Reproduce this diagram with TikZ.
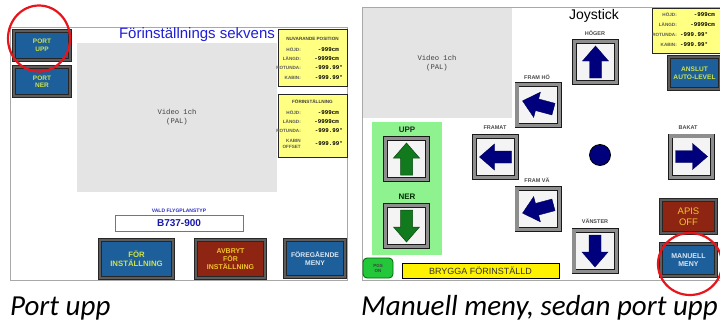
\documentclass[tikz,border=0pt]{standalone}
\usepackage{fontspec}
\setmainfont{Liberation Sans}
\newfontfamily\capfont{Carlito}
\newfontfamily\monofont{Liberation Mono}
\usetikzlibrary{shapes.geometric}

\definecolor{btnblue}{HTML}{1D5F9B}
\definecolor{btnred}{HTML}{8E2412}
\definecolor{btnframe}{HTML}{5C5C5C}
\definecolor{keyframe}{HTML}{8E8E8E}
\definecolor{keyface}{HTML}{F4F4F4}
\definecolor{txtgreen}{HTML}{CDE24C}
\definecolor{txtyellow}{HTML}{F0C428}
\definecolor{txtpale}{HTML}{DCE6F2}
\definecolor{infoyellow}{HTML}{FFFF82}
\definecolor{vidgray}{HTML}{E4E4E4}
\definecolor{navyarrow}{HTML}{00007C}
\definecolor{greenarrow}{HTML}{107A1C}
\definecolor{panelgreen}{HTML}{8EF28E}
\definecolor{pgsgreen}{HTML}{22C83A}
\definecolor{framegray}{HTML}{A8A8A8}
\definecolor{titleblue}{HTML}{1F1FD6}
\definecolor{labelblue}{HTML}{2A2ABE}
\definecolor{circred}{HTML}{E8141B}
\definecolor{labgray}{HTML}{4A4A4A}

\tikzset{
  hmibtn/.style={draw=black!85, double=btnframe, double distance=2.6pt,
    line width=0.6pt, inner sep=0pt, align=center,
    font=\bfseries\fontsize{6.5}{7.5}\selectfont},
  bluebtn/.style={hmibtn, fill=btnblue},
  redbtn/.style={hmibtn, fill=btnred},
  joykey/.style={draw=black!90, double=keyframe, double distance=3.2pt,
    line width=0.8pt, fill=keyface, minimum width=42.2pt, minimum height=41.2pt,
    inner sep=0pt},
  keylabel/.style={font=\bfseries\fontsize{5.5}{6}\selectfont, text=labgray, inner sep=0pt},
  infobox/.style={draw=black!85, line width=0.8pt, fill=infoyellow},
  infohead/.style={font=\bfseries\fontsize{4.6}{5}\selectfont, text=black!75, inner sep=0pt},
  infolab/.style={font=\bfseries\fontsize{4.6}{5}\selectfont, text=black!65, inner sep=0pt, anchor=east, align=right},
  infoval/.style={font=\monofont\bfseries\fontsize{5.8}{6}\selectfont, inner sep=0pt},
  videotxt/.style={font=\monofont\fontsize{7.2}{8.6}\selectfont, text=black!75, align=center},
  navyarr/.style={fill=navyarrow, draw=navyarrow!70!black, line width=0.4pt},
  greenarr/.style={fill=greenarrow, draw=greenarrow!60!black, line width=0.5pt},
  ring/.style={draw=circred, line width=2.2pt, ellipse, inner sep=0pt},
  caption/.style={font=\capfont\itshape\fontsize{29}{34}\selectfont, inner sep=0pt},
}

% block arrow pointing up before rotation: colour style, centre, angle
\newcommand\blockarrow[3]{%
  \filldraw[#1, shift={(#2)}, rotate=#3]
    (0,-16) -- (13,-1) -- (6,-1) -- (6,16) -- (-6,16) -- (-6,-1) -- (-13,-1) -- cycle;}

\begin{document}
\begin{tikzpicture}[x=1pt, y=-1pt]
\useasboundingbox (0,0) rectangle (720,322);
\clip (0,0) rectangle (720,322);

% ---------------- presetting screen ----------------
\draw[framegray, line width=1pt] (10,27) rectangle (347,280);
\fill[vidgray] (77,43) rectangle (277,192);
\node[videotxt] (vidA) at (177,117) {Video 1ch\\(PAL)};
\node[font=\fontsize{15}{17}\selectfont, text=titleblue, inner sep=0pt] (titleA) at (197,35) {Förinställnings sekvens};

\node[bluebtn, minimum width=56pt, minimum height=29pt, text=txtgreen] (portupp) at (42,45.5) {PORT\\UPP};
\node[bluebtn, minimum width=56pt, minimum height=29pt, text=txtgreen] (portner) at (42,81.5) {PORT\\NER};

% current position box
\node[infobox, minimum width=69pt, minimum height=57pt, inner sep=0pt] (posbox) at (312.5,57.5) {};
\node[infohead] (posh) at (312.5,39) {NUVARANDE POSITION};
\node[infolab] (pl1) at (301,50) {HÖJD:};
\node[infolab] (pl2) at (301,59) {LÄNGD:};
\node[infolab] (pl3) at (301,68) {ROTUNDA:};
\node[infolab] (pl4) at (301,77.5) {KABIN:};
\node[infoval, anchor=east] (pv1) at (339,50) {-999cm};
\node[infoval, anchor=east] (pv2) at (339,59) {-9999cm};
\node[infoval, anchor=east] (pv3) at (343,68) {-999.99°};
\node[infoval, anchor=east] (pv4) at (343,77.5) {-999.99°};

% preset box
\node[infobox, minimum width=69pt, minimum height=63pt, inner sep=0pt] (prebox) at (312.5,125.5) {};
\node[infohead] (preh) at (312.5,102) {FÖRINSTÄLLNING};
\node[infolab] (ql1) at (301,113) {HÖJD:};
\node[infolab] (ql2) at (301,122) {LÄNGD:};
\node[infolab] (ql3) at (301,131) {ROTUNDA:};
\node[infolab, font=\bfseries\fontsize{4.6}{5.4}\selectfont] (ql4) at (301,144) {KABIN\\OFFSET};
\node[infoval, anchor=east] (qv1) at (339,113) {-999cm};
\node[infoval, anchor=east] (qv2) at (339,122) {-9999cm};
\node[infoval, anchor=east] (qv3) at (343,131) {-999.99°};
\node[infoval, anchor=east] (qv4) at (343,144) {-999.99°};

% aircraft type
\node[font=\bfseries\fontsize{5}{6}\selectfont, text=labelblue, inner sep=0pt] (typelab) at (179,211) {VALD FLYGPLANSTYP};
\node[draw=labelblue!70, line width=0.7pt, fill=white, minimum width=128pt, minimum height=16pt,
      font=\bfseries\fontsize{10}{12}\selectfont, text=titleblue!80!black] (typebox) at (179,223) {B737-900};

% bottom buttons
\node[bluebtn, minimum width=73pt, minimum height=38pt, text=txtgreen,
      font=\bfseries\fontsize{7.8}{9}\selectfont] (forinst) at (136.5,259) {FÖR\\INSTÄLLNING};
\node[redbtn, minimum width=69pt, minimum height=38pt, text=txtyellow,
      font=\bfseries\fontsize{7}{7.8}\selectfont] (avbryt) at (230.5,259) {AVBRYT\\FÖR\\INSTÄLLNING};
\node[bluebtn, minimum width=60pt, minimum height=37pt, text=txtpale,
      font=\bfseries\fontsize{6.8}{8.2}\selectfont] (foreg) at (315,258.5) {FÖREGÅENDE\\MENY};

% ---------------- joystick screen ----------------
\draw[framegray, line width=1pt] (724,7) -- (362,7) -- (362,280) -- (724,280);
\fill[vidgray] (363,8) rectangle (512,118);
\node[videotxt] (vidB) at (437,63) {Video 1ch\\(PAL)};
\node[font=\fontsize{14}{16}\selectfont, inner sep=0pt] (titleB) at (594,16) {Joystick};

% lift panel
\node[fill=panelgreen, minimum width=70pt, minimum height=133pt, inner sep=0pt] (liftpanel) at (407,188.5) {};
\node[font=\bfseries\fontsize{8}{9}\selectfont, text=black!85, inner sep=0pt] (upplab) at (407,129.5) {UPP};
\node[font=\bfseries\fontsize{8}{9}\selectfont, text=black!70!green!60!black, inner sep=0pt] (nerlab) at (407,196.5) {NER};
\node[joykey] (uppkey) at (406.5,159) {};
\node[joykey] (nerkey) at (406.5,226) {};
\blockarrow{greenarr}{uppkey.center}{0}
\blockarrow{greenarr}{nerkey.center}{180}

% direction keys
\node[joykey] (hoger) at (595.5,62) {};
\node[joykey] (framho) at (538,105) {};
\node[joykey] (framat) at (495.5,157) {};
\node[joykey] (framva) at (538,209) {};
\node[joykey] (vanster) at (595,251) {};
\node[joykey] (bakat) at (691.5,156.5) {};
\node[keylabel] (lhoger) at (595,33) {HÖGER};
\node[keylabel] (lframho) at (537,77) {FRAM HÖ};
\node[keylabel] (lframat) at (495,127.5) {FRAMAT};
\node[keylabel] (lframva) at (537,180) {FRAM VÄ};
\node[keylabel] (lvanster) at (595,221) {VÄNSTER};
\node[keylabel] (lbakat) at (688,128) {BAKAT};
\blockarrow{navyarr}{hoger.center}{0}
\blockarrow{navyarr}{framho.center}{75}
\blockarrow{navyarr}{framat.center}{90}
\blockarrow{navyarr}{framva.center}{105}
\blockarrow{navyarr}{vanster.center}{180}
\blockarrow{navyarr}{bakat.center}{-90}
\node[circle, fill=navyarrow, draw=black, line width=0.8pt, minimum size=21pt, inner sep=0pt] (centre) at (600,155) {};

% position readout
\node[infobox, minimum width=72pt, minimum height=45pt, inner sep=0pt] (posboxB) at (688,30.5) {};
\node[infolab] (rl1) at (677,15) {HÖJD:};
\node[infolab] (rl2) at (677,25) {LÄNGD:};
\node[infolab] (rl3) at (677,35) {ROTUNDA:};
\node[infolab] (rl4) at (677,45) {KABIN:};
\node[infoval, anchor=east] (rv1) at (715,15) {-999cm};
\node[infoval, anchor=east] (rv2) at (715,25) {-9999cm};
\node[infoval, anchor=west] (rv3) at (680,35) {-999.99°};
\node[infoval, anchor=west] (rv4) at (680,45) {-999.99°};

\node[bluebtn, minimum width=51pt, minimum height=32pt, text=txtgreen,
      font=\bfseries\fontsize{6.6}{8}\selectfont] (anslut) at (694.5,73) {ANSLUT\\AUTO-LEVEL};
\node[redbtn, minimum width=55pt, minimum height=33pt, text=txtyellow,
      font=\fontsize{9.5}{10.5}\selectfont] (apis) at (688.5,216.5) {APIS\\OFF};
\node[bluebtn, minimum width=55pt, minimum height=32pt, text=txtpale,
      font=\bfseries\fontsize{7}{8.6}\selectfont] (manuell) at (688.5,260) {MANUELL\\MENY};

% status line
\node[draw=black!60!green, fill=pgsgreen, line width=0.8pt, rounded corners=4pt,
      minimum width=30pt, minimum height=20pt, inner sep=0pt, align=center,
      font=\bfseries\fontsize{4.5}{5}\selectfont, text=black!75] (pgs) at (378,268) {PGS\\ON};
\node[draw=black, line width=1pt, fill=yellow, minimum width=157pt, minimum height=15pt,
      inner sep=0pt, font=\fontsize{9}{10}\selectfont, text=black!80] (status) at (480.5,270.5) {BRYGGA FÖRINSTÄLLD};

% highlight rings
\node[ring, minimum width=62pt, minimum height=66pt] (ringA) at (39,38.5) {};
\node[ring, minimum width=64pt, minimum height=62pt] (ringB) at (690,264) {};

% captions
\node[caption, anchor=base west] (capA) at (10,315) {Port upp};
\node[caption, anchor=base east] (capB) at (718,315) {Manuell meny, sedan port upp};
\end{tikzpicture}
\end{document}
